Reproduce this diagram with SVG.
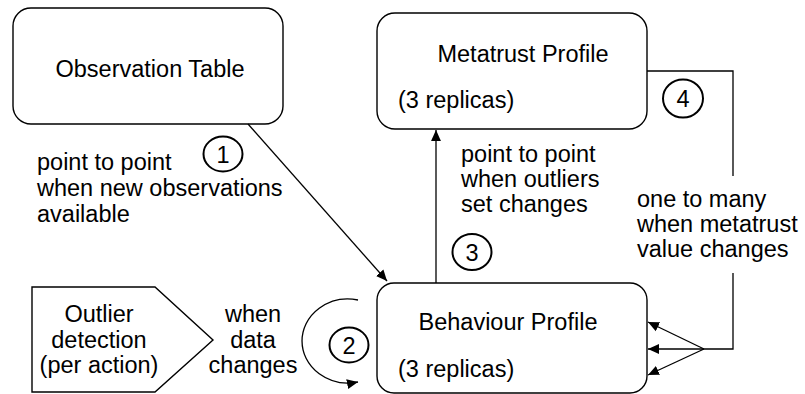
<svg xmlns="http://www.w3.org/2000/svg" width="805" height="394" viewBox="0 0 805 394">
  <style>
    .box { fill: #ffffff; stroke: #000000; stroke-width: 1.4; }
    .lbl { font-family: "Liberation Sans", Arial, sans-serif; font-size: 23.5px; fill: #000000; }
    .mid { text-anchor: middle; }
    .num { fill: none; stroke: #000000; stroke-width: 2; }
    .con { fill: none; stroke: #000000; stroke-width: 1.3; }
  </style>
  <defs>
    <marker id="arrow" viewBox="0 0 10 10" refX="10" refY="5" markerWidth="11" markerHeight="11" markerUnits="userSpaceOnUse" orient="auto">
      <path d="M0,0.5 L10,5 L0,9.5 Z" fill="#000000"/>
    </marker>
  </defs>
  <rect width="805" height="394" fill="#ffffff"/>

  <g id="observation-table">
    <rect class="box" x="13" y="8" width="270" height="116" rx="18"/>
    <text class="lbl mid" x="150" y="77">Observation Table</text>
  </g>

  <g id="metatrust-profile">
    <rect class="box" x="377" y="13" width="270" height="116" rx="18"/>
    <text class="lbl mid" x="523" y="62">Metatrust Profile</text>
    <text class="lbl" x="398" y="108">(3 replicas)</text>
  </g>

  <g id="behaviour-profile">
    <rect class="box" x="377" y="283" width="270" height="110" rx="17"/>
    <text class="lbl mid" x="508" y="330">Behaviour Profile</text>
    <text class="lbl" x="398" y="377">(3 replicas)</text>
  </g>

  <g id="outlier-detection">
    <polygon class="box" points="32,287 155,287 213,340 155,392 32,392"/>
    <text class="lbl mid" x="99" y="322">Outlier</text>
    <text class="lbl mid" x="99" y="348">detection</text>
    <text class="lbl mid" x="99" y="373">(per action)</text>
  </g>

  <g id="connectors">
    <!-- 1: observations to behaviour profile -->
    <line class="con" x1="248" y1="124" x2="387" y2="281" marker-end="url(#arrow)"/>
    <!-- 3: behaviour profile to metatrust profile -->
    <line class="con" x1="436" y1="283" x2="436" y2="130" marker-end="url(#arrow)"/>
    <!-- 4: metatrust profile fan-out to behaviour replicas -->
    <polyline class="con" points="647,71 733,71 733,176"/>
    <polyline class="con" points="733,273 733,349 704,349"/>
    <line class="con" x1="704" y1="349" x2="648" y2="322" marker-end="url(#arrow)"/>
    <line class="con" x1="704" y1="349" x2="648" y2="349" marker-end="url(#arrow)"/>
    <line class="con" x1="704" y1="349" x2="648" y2="375" marker-end="url(#arrow)"/>
    <!-- 2: outlier detection loop -->
    <path class="con" d="M358,300 A46,42 0 1 0 358,382" marker-end="url(#arrow)"/>
  </g>

  <g id="labels">
    <text class="lbl" x="37" y="170">point to point</text>
    <text class="lbl" x="37" y="196">when new observations</text>
    <text class="lbl" x="37" y="222">available</text>

    <text class="lbl" x="461" y="162">point to point</text>
    <text class="lbl" x="461" y="187">when outliers</text>
    <text class="lbl" x="461" y="212">set changes</text>

    <text class="lbl" x="637" y="207">one to many</text>
    <text class="lbl" x="637" y="232">when metatrust</text>
    <text class="lbl" x="637" y="257">value changes</text>

    <text class="lbl mid" x="253" y="322">when</text>
    <text class="lbl mid" x="253" y="348">data</text>
    <text class="lbl mid" x="253" y="373">changes</text>
  </g>

  <g id="step-markers">
    <ellipse class="num" cx="223" cy="154" rx="19.5" ry="17.5"/>
    <text class="lbl mid" x="223" y="162.5">1</text>
    <ellipse class="num" cx="349" cy="345" rx="19.5" ry="17.5"/>
    <text class="lbl mid" x="349" y="353.5">2</text>
    <ellipse class="num" cx="472" cy="252" rx="19.5" ry="18"/>
    <text class="lbl mid" x="472" y="260.5">3</text>
    <ellipse class="num" cx="683" cy="98.5" rx="20" ry="19"/>
    <text class="lbl mid" x="683" y="107">4</text>
  </g>
</svg>
